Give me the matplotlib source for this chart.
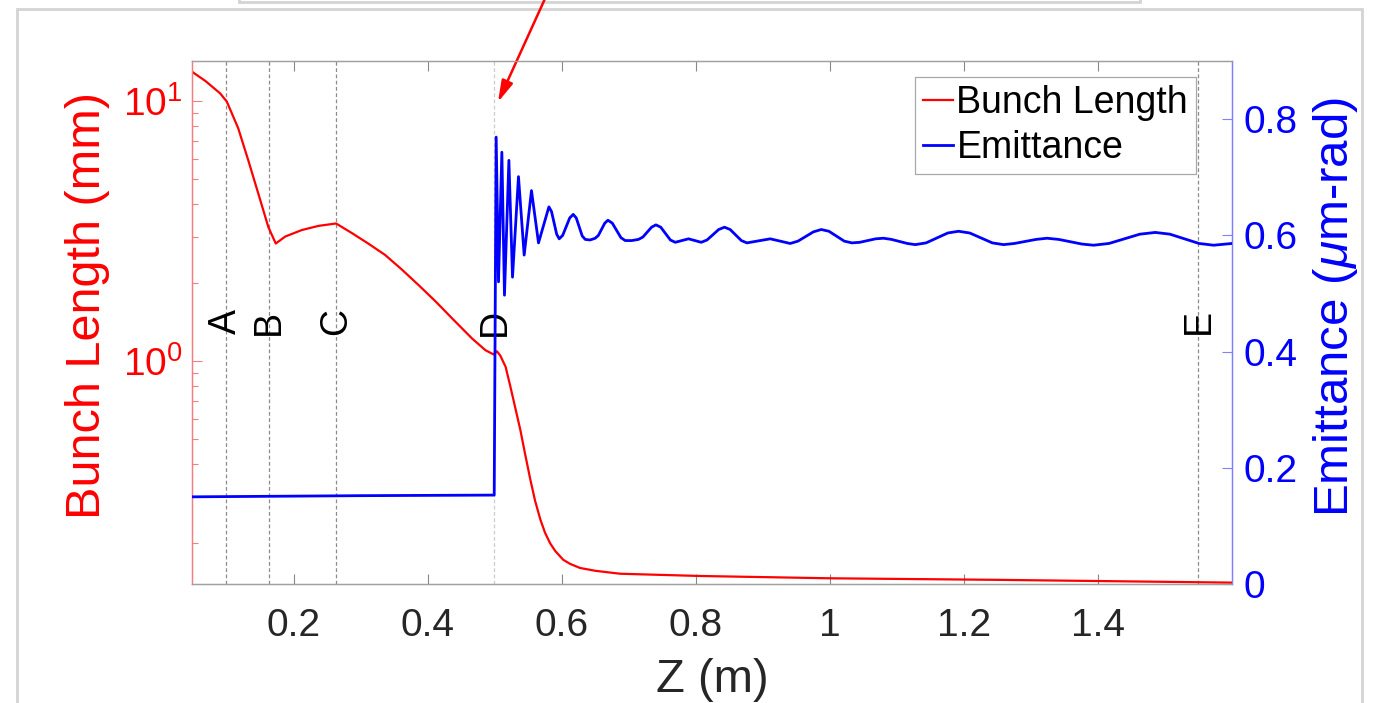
import numpy as np
import matplotlib
matplotlib.use('Agg')
import matplotlib.pyplot as plt
from matplotlib.patches import Rectangle
from matplotlib.ticker import LogLocator, FixedLocator, FixedFormatter, NullFormatter

plt.rcParams['font.family'] = ['Liberation Sans', 'DejaVu Sans']
plt.rcParams['mathtext.fontset'] = 'custom'
plt.rcParams['mathtext.rm'] = 'Liberation Sans'
plt.rcParams['mathtext.it'] = 'Liberation Sans:italic'

# bunch length (mm) along z (m)
z_bunch = [0.048, 0.068, 0.090, 0.100, 0.117, 0.132, 0.147, 0.162, 0.173, 0.187,
           0.212, 0.237, 0.263, 0.287, 0.311, 0.336, 0.361, 0.386, 0.411, 0.436,
           0.466, 0.486, 0.498, 0.503, 0.508, 0.516, 0.523, 0.538, 0.545, 0.553,
           0.560, 0.568, 0.575, 0.5825, 0.590, 0.602, 0.612, 0.627, 0.650, 0.687,
           0.807, 1.0, 1.25, 1.45, 1.60]
bunch_mm = [12.96, 11.94, 10.7, 9.94, 7.85, 5.91, 4.40, 3.27, 2.83, 3.01,
            3.19, 3.31, 3.38, 3.10, 2.83, 2.56, 2.25, 1.96, 1.70, 1.46,
            1.22, 1.10, 1.06, 1.09, 1.05, 0.95, 0.80, 0.543, 0.44, 0.349,
            0.29, 0.245, 0.218, 0.199, 0.186, 0.172, 0.166, 0.160, 0.156, 0.152,
            0.149, 0.146, 0.144, 0.142, 0.1405]

# emittance (um-rad)
z_emit = [0.048, 0.30, 0.499, 0.5019, 0.5054, 0.5104, 0.5143, 0.5209, 0.5263, 0.5352,
          0.5437, 0.5546, 0.5651, 0.5806, 0.5845, 0.5922, 0.5960, 0.6012, 0.6117, 0.6169,
          0.6214, 0.6303, 0.6348, 0.6420, 0.6497, 0.6545, 0.6640, 0.6687, 0.6752, 0.6881,
          0.6945, 0.7043, 0.7143, 0.7208, 0.7338, 0.7403, 0.7475, 0.7619, 0.7691, 0.7890,
          0.8079, 0.8166, 0.8340, 0.8427, 0.8511, 0.8678, 0.8761, 0.9109, 0.9407, 0.9523,
          0.9754, 0.9870, 0.9985, 1.0214, 1.0328, 1.0446, 1.0682, 1.0800, 1.0918, 1.1155,
          1.1273, 1.1435, 1.1758, 1.1919, 1.2087, 1.2423, 1.2591, 1.2753, 1.3077, 1.3239,
          1.3413, 1.3760, 1.3934, 1.4164, 1.4625, 1.4855, 1.5073, 1.5508, 1.5725, 1.60]
emit = [0.150, 0.152, 0.153, 0.769, 0.520, 0.743, 0.497, 0.729, 0.528, 0.701,
        0.566, 0.677, 0.587, 0.649, 0.641, 0.602, 0.594, 0.600, 0.630, 0.636,
        0.630, 0.599, 0.593, 0.592, 0.595, 0.600, 0.621, 0.626, 0.621, 0.596,
        0.591, 0.591, 0.593, 0.597, 0.614, 0.618, 0.614, 0.592, 0.588, 0.594,
        0.588, 0.592, 0.610, 0.614, 0.610, 0.591, 0.587, 0.594, 0.586, 0.590,
        0.606, 0.610, 0.607, 0.590, 0.587, 0.588, 0.594, 0.595, 0.593, 0.586,
        0.584, 0.587, 0.604, 0.607, 0.604, 0.587, 0.584, 0.586, 0.593, 0.595,
        0.593, 0.585, 0.583, 0.586, 0.602, 0.605, 0.602, 0.586, 0.583, 0.586]

marker_z = [0.0985, 0.163, 0.263, 0.4994, 1.55]
marker_names = ['A', 'B', 'C', 'D', 'E']
marker_colors = ['#8c8c8c', '#8c8c8c', '#8c8c8c', '#cccccc', '#8c8c8c']

xticks = [0.2, 0.4, 0.6, 0.8, 1.0, 1.2, 1.4]
xtick_labels = ['0.2', '0.4', '0.6', '0.8', '1', '1.2', '1.4']
yticks_right = [0, 0.2, 0.4, 0.6, 0.8]
ytick_labels_right = ['0', '0.2', '0.4', '0.6', '0.8']

W, H = 1381, 703
fig = plt.figure(figsize=(W / 100, H / 100), dpi=100)
fig.patch.set_facecolor('white')

# card backgrounds
fig.add_artist(Rectangle((239 / W, 1 - 2 / H), (1140 - 239) / W, 0.1, transform=fig.transFigure,
                         facecolor='white', edgecolor='#d4d4d4', lw=2, zorder=-5))
fig.add_artist(Rectangle((17 / W, -0.05), (1362 - 17) / W, 1.05 - 9 / H, transform=fig.transFigure,
                         facecolor='white', edgecolor='#d4d4d4', lw=2, zorder=-5))

ax = fig.add_axes([192 / W, (H - 584) / H, (1232 - 192) / W, (584 - 61) / H])
ax.patch.set_alpha(0)
ax2 = ax.twinx()

for zm, name, c in zip(marker_z, marker_names, marker_colors):
    ax.axvline(zm, color=c, lw=0.9, ls=(0, (3, 2)), zorder=1)
    ax.text(zm, 0.501, name, rotation=90, ha='center', va='center', fontsize=27,
            color='black', transform=ax.get_xaxis_transform(), zorder=2)

l1, = ax.plot(z_bunch, bunch_mm, color='red', lw=1.6, label='Bunch Length', zorder=3)
l2, = ax2.plot(z_emit, emit, color='blue', lw=2.0, label='Emittance', zorder=3,
               solid_joinstyle='round')

ax.set_yscale('log')
ax.set_xlim(0.048, 1.6)
ax.set_ylim(0.1388, 14.25)
ax2.set_ylim(0, 0.9)

ax.xaxis.set_major_locator(FixedLocator(xticks))
ax.xaxis.set_major_formatter(FixedFormatter(xtick_labels))
ax.yaxis.set_major_locator(LogLocator(base=10))
ax.yaxis.set_minor_locator(LogLocator(base=10, subs=np.arange(2, 10)))
ax.yaxis.set_minor_formatter(NullFormatter())
ax2.yaxis.set_major_locator(FixedLocator(yticks_right))
ax2.yaxis.set_major_formatter(FixedFormatter(ytick_labels_right))

ax.tick_params(axis='x', direction='in', top=True, length=7.5, width=0.8, color='#888888',
               labelsize=28, labelcolor='#262626', pad=17)
ax.tick_params(axis='y', which='major', direction='in', length=7.5, width=0.8, color='#f08080',
               labelsize=28, labelcolor='red', pad=7)
ax.tick_params(axis='y', which='minor', direction='in', length=4, width=0.8, color='#f08080')
ax2.tick_params(axis='y', direction='in', length=7.5, width=0.8, color='#8080ff',
                labelsize=28, labelcolor='blue', pad=8)

for a in (ax, ax2):
    a.spines['top'].set_color('#a0a0a0')
    a.spines['bottom'].set_color('#a0a0a0')
    a.spines['left'].set_color('#f08080')
    a.spines['right'].set_color('#8080ff')
    for s in a.spines.values():
        s.set_linewidth(0.9)

ax.set_xlabel('Z (m)', fontsize=34, color='#262626')
ax.xaxis.set_label_coords(0.5, -0.1836)
ax.xaxis.label.set_va('center')
ax.set_ylabel('Bunch Length (mm)', fontsize=35, color='red')
ax.yaxis.label.set_va('center')
ax.yaxis.set_label_coords(-0.1, 0.532)
ax2.set_ylabel(r'Emittance ($\mu$m-rad)', fontsize=35.5, color='blue')
ax2.yaxis.label.set_va('center')
ax2.yaxis.set_label_coords(1.1, 0.53)

leg = ax2.legend([l1, l2], ['Bunch Length', 'Emittance'], loc='upper right',
                 bbox_to_anchor=(0.965, 0.9688), borderaxespad=0, fontsize=27,
                 handlelength=0.8, handletextpad=0.1, labelspacing=0.25, borderpad=0.2,
                 fancybox=False, framealpha=1, edgecolor='#a8a8a8')
leg.get_frame().set_linewidth(0.9)

ax.annotate('', xy=(498 / W, 1 - 102 / H), xytext=(546 / W, 1.005), xycoords='figure fraction',
            arrowprops=dict(arrowstyle='-|>,head_length=0.8,head_width=0.22', color='red',
                            lw=1.8, mutation_scale=16, shrinkA=0, shrinkB=0))

fig.savefig('out.png', dpi=100, facecolor='white')
